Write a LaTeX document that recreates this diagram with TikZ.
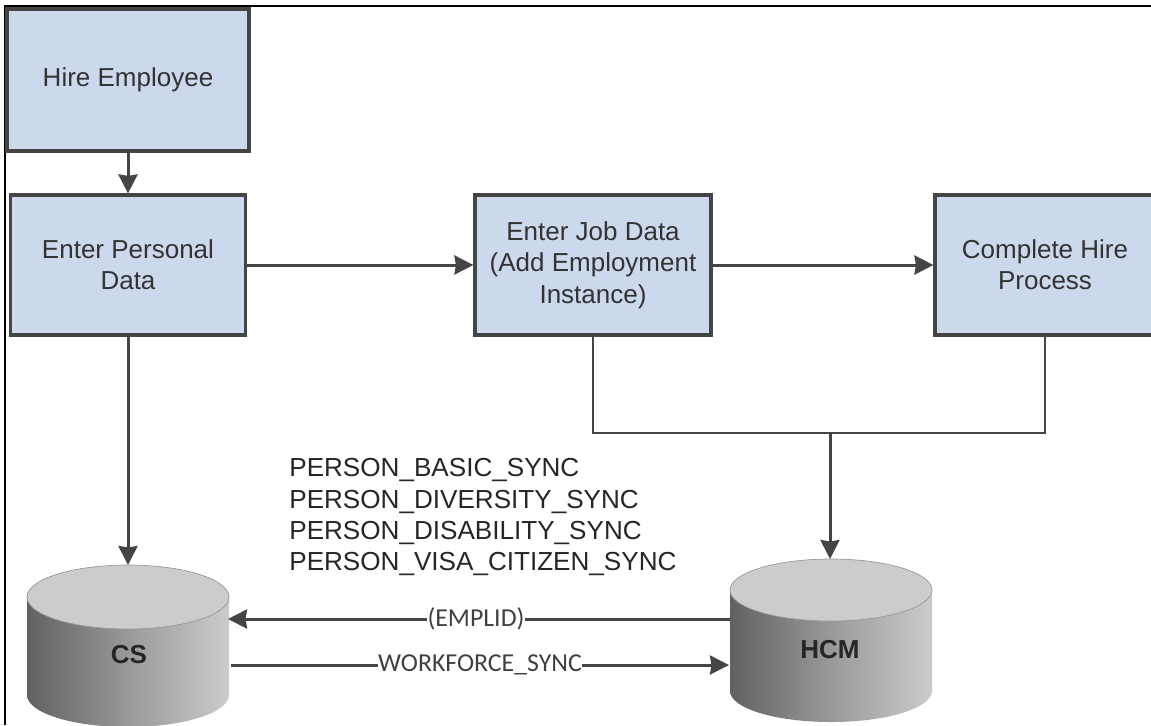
\documentclass[tikz,border=0pt]{standalone}
\usepackage{fontspec}
\setmainfont{Liberation Sans}
\newfontfamily\msgfont{Carlito}
\usetikzlibrary{arrows.meta}
\definecolor{boxfill}{RGB}{204,216,235}
\definecolor{linegray}{gray}{.27}
\tikzset{
  stepbox/.style={draw=linegray,line width=3.2pt*.5692,fill=boxfill,text=black!80,align=center,
    font=\fontsize{14.8}{17.8}\selectfont,inner sep=0pt},
  flow/.style={draw=linegray,line width=3pt*.5692,-{Stealth[length=.38cm,width=.38cm,inset=.03cm]}},
  plainflow/.style={draw=linegray,line width=3pt*.5692},
  thinflow/.style={draw=linegray,line width=2.4pt*.5692},
  dbside/.style={left color=black!62,right color=black!20,middle color=black!40},
  dbtop/.style={fill=black!20,draw=black!40,line width=.4pt},
  dbname/.style={font=\fontsize{14.8}{17.8}\selectfont\bfseries,text=black!85},
  msglabel/.style={fill=white,inner sep=0pt,text=black!75,font=\msgfont\fontsize{14.7}{17}\selectfont}
}
\begin{document}
\begin{tikzpicture}[x=.02cm,y=-.02cm]
    \useasboundingbox (0,0) rectangle (1151,725);
    \fill[white] (0,0) rectangle (1151,725);
    \draw[black,line width=1.1pt] (5,725) -- (5,6) -- (1151,6);
    % process boxes
    \node[stepbox,minimum width=4.84cm,minimum height=2.84cm] (hire) at (128,80) {Hire Employee};
    \node[stepbox,minimum width=4.7cm,minimum height=2.8cm] (personal) at (128,265) {Enter Personal\\Data};
    \node[stepbox,minimum width=4.72cm,minimum height=2.8cm] (job) at (593,265) {Enter Job Data\\(Add Employment\\Instance)};
    \node[stepbox,minimum width=4.4cm,minimum height=2.8cm] (complete) at (1045,265) {Complete Hire\\Process};
    % databases
    \shade[dbside] (27,597) -- (27,695) arc (180:0:101 and 32) -- (229,597) -- cycle;
    \draw[dbtop] (128,597) ellipse (101 and 32);
    \shade[dbside] (730,590) -- (730,691) arc (180:0:101 and 31) -- (932,590) -- cycle;
    \draw[dbtop] (831,590) ellipse (101 and 31);
    \node[dbname] (cs) at (129,655) {CS};
    \node[dbname] (hcm) at (830,650) {HCM};
    % sync messages
    \node[anchor=north west,align=left,inner sep=0pt,text=black!85,font=\fontsize{14.85}{17.9}\selectfont] (sync) at (289,458)
      {PERSON\_BASIC\_SYNC\\PERSON\_DIVERSITY\_SYNC\\PERSON\_DISABILITY\_SYNC\\PERSON\_VISA\_CITIZEN\_SYNC};
    \node[msglabel] (emplid) at (476,619) {(EMPLID)};
    \node[msglabel] (workforce) at (480,665) {WORKFORCE\_SYNC};
    \coordinate (merge) at (830,433);
    \coordinate (hcmin) at (730,619);
    \coordinate (csin) at (228,619);
    \coordinate (csout) at (231,665);
    \coordinate (hcmout) at (729,665);
    \coordinate (cstop) at (128,565);
    \coordinate (hcmtop) at (830,559);
    % connectors
    \draw[flow] (hire) -- (personal);
    \draw[flow] (personal) -- (job);
    \draw[flow] (job) -- (complete);
    \draw[flow] (personal) -- (cstop);
    \draw[thinflow] (job) |- (merge) -| (complete);
    \draw[flow] (merge) -- (hcmtop);
    \draw[plainflow] (hcmin) -- (emplid);
    \draw[flow] (emplid) -- (csin);
    \draw[plainflow] (csout) -- (workforce);
    \draw[flow] (workforce) -- (hcmout);
\end{tikzpicture}
\end{document}
